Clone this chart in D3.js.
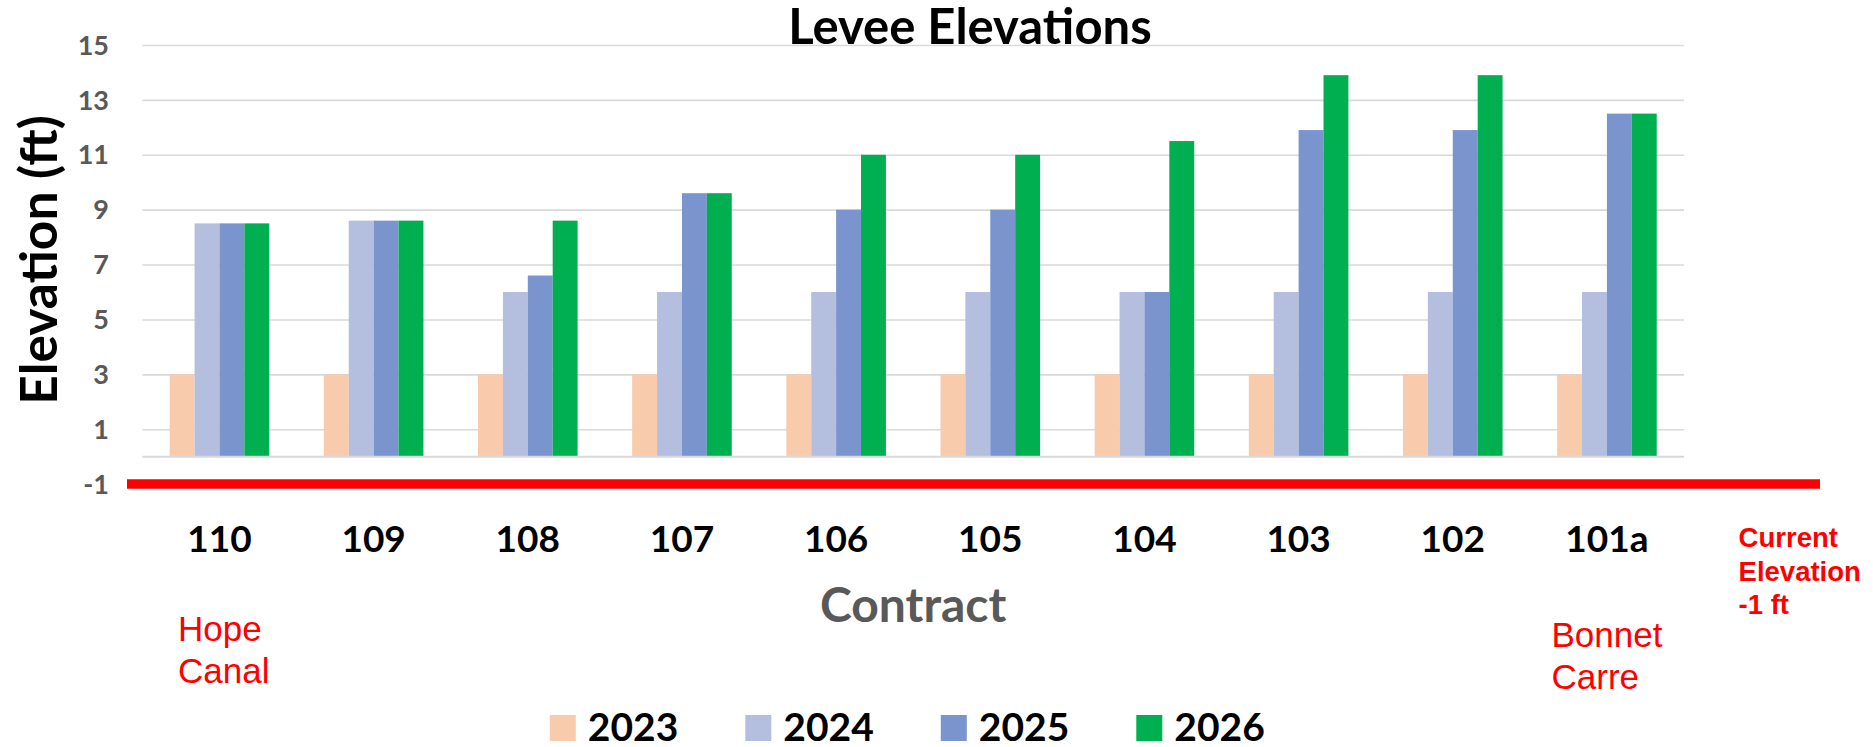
<!DOCTYPE html>
<body style="margin:0;background:#fff">
<svg width="1873" height="747"></svg>
</body>
<script src="https://d3js.org/d3.v7.min.js"></script>
<script>

var contracts = ["110", "109", "108", "107", "106", "105", "104", "103", "102", "101a"];
var years = ["2023", "2024", "2025", "2026"];
var elev2023 = [3, 3, 3, 3, 3, 3, 3, 3, 3, 3];
var elev2024 = [8.5, 8.6, 6, 6, 6, 6, 6, 6, 6, 6];
var elev2025 = [8.5, 8.6, 6.6, 9.6, 9, 9, 6, 11.9, 11.9, 12.5];
var elev2026 = [8.5, 8.6, 8.6, 9.6, 11, 11, 11.5, 13.9, 13.9, 12.5];
var yTicks = [-1, 1, 3, 5, 7, 9, 11, 13, 15];
var currentElevation = -1;

var colors = ["#f8cbad", "#b4bfe0", "#7a94ce", "#00b050"];
var series = [elev2023, elev2024, elev2025, elev2026];

var svg = d3.select("svg");
var calibri = "Lato, 'Open Sans', sans-serif";
var arial = "'Liberation Sans', Arial, sans-serif";

var left = 142.4, right = 1684;

var x = d3.scaleBand()
    .domain(contracts)
    .range([left, right])
    .paddingInner(0.354)
    .paddingOuter(0.177);

var xs = d3.scaleBand()
    .domain(years)
    .range([0, x.bandwidth()]);

var y = d3.scaleLinear()
    .domain([-1, 15])
    .range([484.1, 45]);

// gridlines
svg.append("g")
    .attr("transform", "translate(" + left + ",0)")
    .call(d3.axisLeft(y).tickValues(yTicks).tickSize(-(right - left)).tickFormat(""))
    .call(function(g) {
      g.select(".domain").remove();
      g.selectAll("line").attr("stroke", "#d9d9d9").attr("stroke-width", 1.6);
    });

// tick labels
svg.append("g")
    .selectAll("text")
    .data(yTicks)
    .enter().append("text")
      .attr("x", 109)
      .attr("y", function(d) { return y(d); })
      .attr("dy", "0.36em")
      .attr("text-anchor", "end")
      .attr("font-family", calibri)
      .attr("font-weight", "bold")
      .attr("font-size", 27)
      .attr("fill", "#595959")
      .text(function(d) { return d; });

// bars
var groups = svg.append("g")
    .selectAll("g")
    .data(contracts)
    .enter().append("g")
      .attr("transform", function(d) { return "translate(" + x(d) + ",0)"; });

groups.selectAll("rect")
    .data(function(d, i) {
      return years.map(function(yr, j) { return {year: yr, value: series[j][i], color: colors[j]}; });
    })
    .enter().append("rect")
      .attr("x", function(d) { return xs(d.year); })
      .attr("width", xs.bandwidth())
      .attr("y", function(d) { return y(d.value); })
      .attr("height", function(d) { return y(0) - y(d.value); })
      .attr("fill", function(d) { return d.color; });

// category axis line at 0
svg.append("line")
    .attr("x1", left).attr("x2", right)
    .attr("y1", y(0)).attr("y2", y(0))
    .attr("stroke", "#d9d9d9")
    .attr("stroke-width", 2);

// current elevation line
svg.append("line")
    .attr("x1", 127).attr("x2", 1820)
    .attr("y1", y(currentElevation)).attr("y2", y(currentElevation))
    .attr("stroke", "#ff0000")
    .attr("stroke-width", 9.5);

// category labels
svg.append("g")
    .selectAll("text")
    .data(contracts)
    .enter().append("text")
      .attr("x", function(d) { return x(d) + x.bandwidth() / 2; })
      .attr("y", 552)
      .attr("text-anchor", "middle")
      .attr("font-family", calibri)
      .attr("font-weight", "bold")
      .attr("font-size", 37)
      .attr("fill", "#000")
      .text(function(d) { return d; });

// title
svg.append("text")
    .attr("x", 970).attr("y", 44)
    .attr("text-anchor", "middle")
    .attr("font-family", calibri)
    .attr("font-weight", "bold")
    .attr("font-size", 49)
    .text("Levee Elevations");

// axis titles
svg.append("text")
    .attr("transform", "translate(57,260) rotate(-90)")
    .attr("text-anchor", "middle")
    .attr("font-family", calibri)
    .attr("font-weight", "bold")
    .attr("font-size", 51.5)
    .text("Elevation (ft)");

svg.append("text")
    .attr("x", (left + right) / 2).attr("y", 622)
    .attr("text-anchor", "middle")
    .attr("font-family", calibri)
    .attr("font-weight", "bold")
    .attr("font-size", 48)
    .attr("fill", "#595959")
    .text("Contract");

// red annotations
function note(lines, x0, y0, dy, size, weight) {
  var t = svg.append("text")
      .attr("font-family", arial)
      .attr("font-size", size)
      .attr("font-weight", weight)
      .attr("fill", "#ff0000");
  lines.forEach(function(s, i) {
    t.append("tspan").attr("x", x0).attr("y", y0 + i * dy).text(s);
  });
}
note(["Hope", "Canal"], 178, 641, 42.3, 35, "normal");
note(["Bonnet", "Carre"], 1551.5, 647, 42.3, 35, "normal");
note(["Current", "Elevation", "-1 ft"], 1738.6, 546.7, 33.8, 27.5, "bold");

// legend
var legend = svg.append("g")
    .selectAll("g")
    .data(years)
    .enter().append("g")
      .attr("transform", function(d, i) { return "translate(" + (549.8 + i * 195.5) + ",715)"; });

legend.append("rect")
    .attr("width", 26)
    .attr("height", 26)
    .attr("fill", function(d, i) { return colors[i]; });

legend.append("text")
    .attr("x", 38)
    .attr("y", 26)
    .attr("font-family", calibri)
    .attr("font-weight", "bold")
    .attr("font-size", 39)
    .text(function(d) { return d; });

</script>
